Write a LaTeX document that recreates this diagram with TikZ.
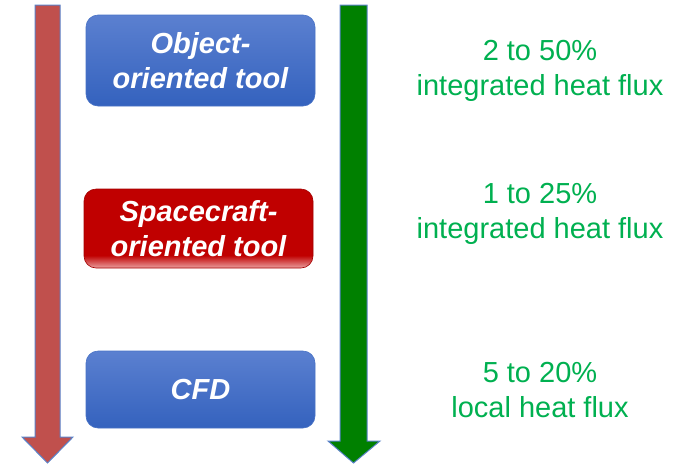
\documentclass[tikz,border=0pt]{standalone}
\usepackage{fontspec}
\setmainfont{Liberation Sans}
\definecolor{boxblueTop}{HTML}{5B80D0}
\definecolor{boxblueBot}{HTML}{3462BE}
\definecolor{boxredMain}{HTML}{C00000}
\definecolor{boxredLight}{HTML}{EAA0A0}
\definecolor{arrowRed}{HTML}{C0504D}
\definecolor{arrowGreen}{HTML}{008000}
\definecolor{arrowEdge}{HTML}{5A82C8}
\definecolor{noteGreen}{HTML}{00B050}
\pgfdeclareverticalshading{redgloss}{100bp}{color(0bp)=(boxredLight); color(25bp)=(boxredLight); color(33bp)=(boxredMain); color(100bp)=(boxredMain)}
\tikzset{
  toolbox/.style={rounded corners=12pt, minimum width=229pt, align=center,
    text=white, font=\fontsize{29}{35}\selectfont\bfseries\itshape, inner sep=0pt},
  bluebox/.style={toolbox, draw=boxblueBot!90!white, line width=0.6pt,
    top color=boxblueTop, bottom color=boxblueBot},
  redbox/.style={toolbox, draw=boxredMain!85!black, line width=0.6pt, shading=redgloss},
  note/.style={align=center, text=noteGreen, font=\fontsize{29}{35}\selectfont, inner sep=0pt},
  bigarrow/.style={draw=arrowEdge, line width=1pt, line join=miter}
}
\begin{document}
\begin{tikzpicture}[x=1pt, y=-1pt]
\useasboundingbox (0,0) rectangle (679,464);
% left (red) downward arrow
\filldraw[bigarrow, fill=arrowRed]
  (35,5) -- (60,5) -- (60,437) -- (73,437) -- (47.5,463) -- (22,437) -- (35,437) -- cycle;
% right (green) downward arrow
\filldraw[bigarrow, fill=arrowGreen]
  (340,5) -- (367,5) -- (367,441) -- (380,441) -- (353.5,463) -- (328,441) -- (340,441) -- cycle;
% tool boxes
\node[bluebox, minimum height=91pt] (obj) at (200.5,60.5) {Object-\\oriented tool};
\node[redbox, minimum height=79pt] (sc) at (198.5,228.5) {Spacecraft-\\oriented tool};
\node[bluebox, minimum height=77pt] (cfd) at (200.5,389.5) {CFD};
% accuracy notes
\node[note] (n1) at (540,71) {2 to 50\%\\integrated heat flux};
\node[note] (n2) at (540,214) {1 to 25\%\\integrated heat flux};
\node[note] (n3) at (540,390) {5 to 20\%\\local heat flux};
\end{tikzpicture}
\end{document}
